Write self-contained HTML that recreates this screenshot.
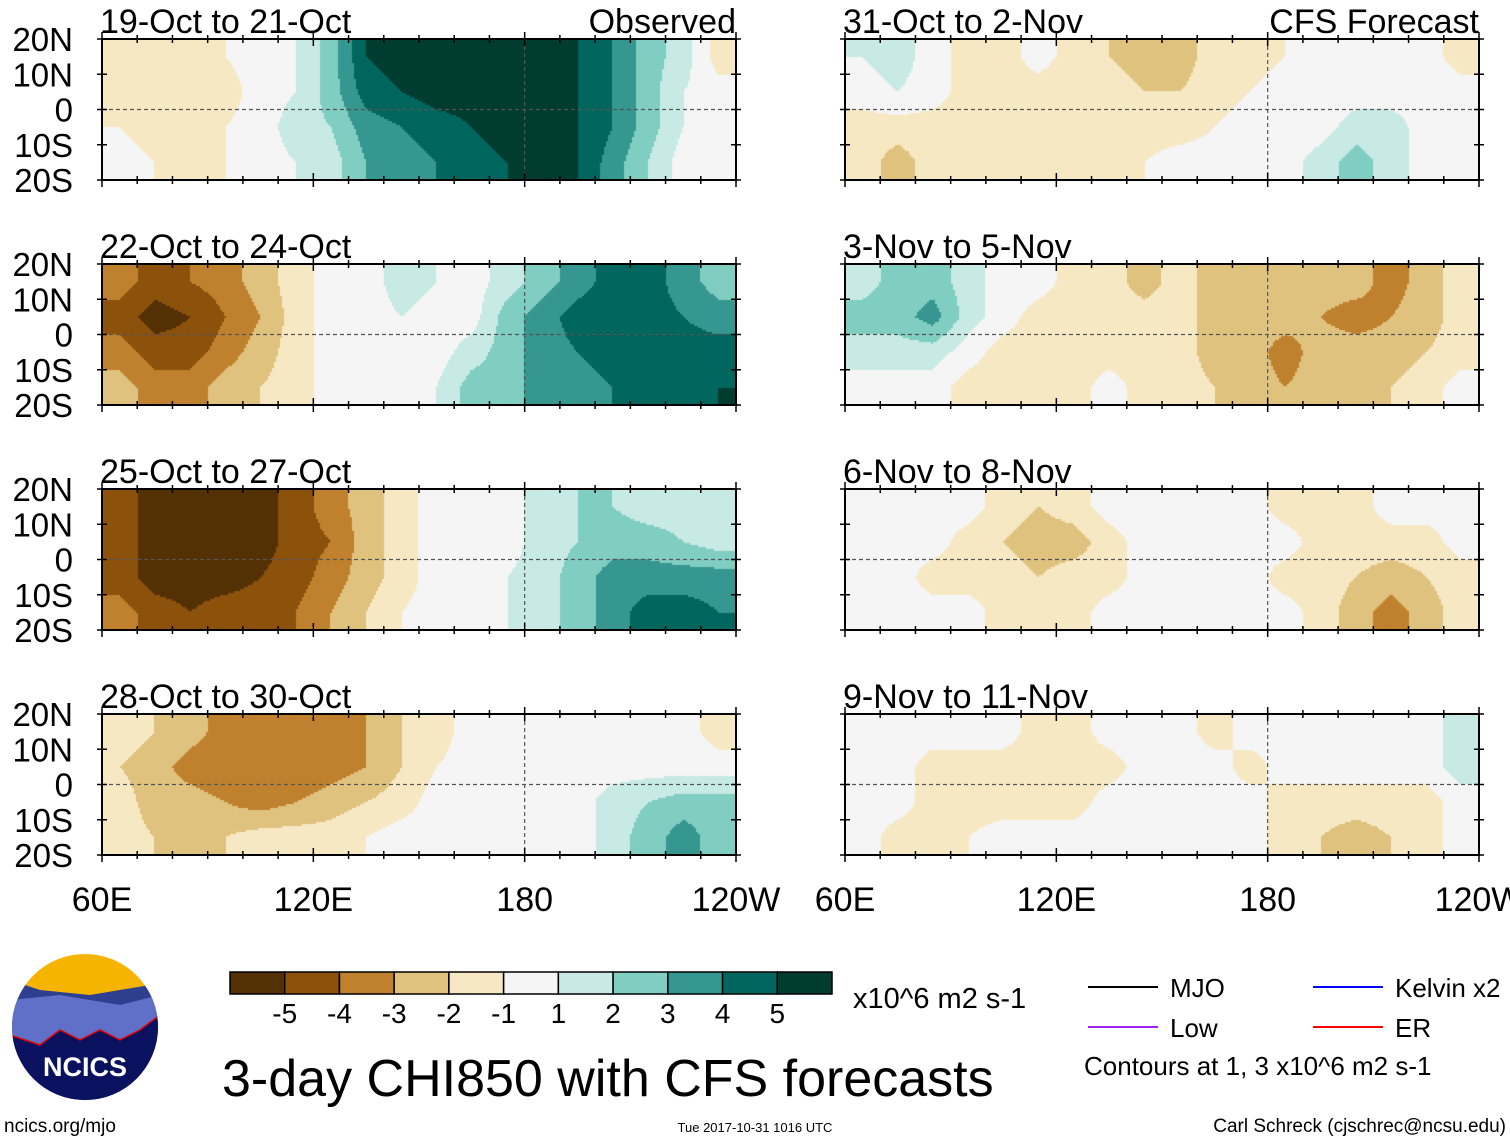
<!DOCTYPE html>
<html><head><meta charset="utf-8"><style>
body{margin:0;background:#fff;width:1510px;height:1142px;position:relative;overflow:hidden;font-family:"Liberation Sans",Arial,sans-serif;color:#000}
canvas{position:absolute}
</style></head><body>
<svg id="ov" width="1510" height="1142" style="position:absolute;left:0;top:0"></svg>
<script>
const titlesL=["19-Oct to 21-Oct","22-Oct to 24-Oct","25-Oct to 27-Oct","28-Oct to 30-Oct"];
const titlesR=["31-Oct to 2-Nov","3-Nov to 5-Nov","6-Nov to 8-Nov","9-Nov to 11-Nov"];
const latLabels=["20N","10N","0","10S","20S"];
const lonLabels=["60E","120E","180","120W"];
const cbLabels=["-5","-4","-3","-2","-1","1","2","3","4","5"];
const palette=["#543005","#8c510a","#bf812d","#dfc27d","#f6e8c3","#f5f5f5","#c7eae5","#80cdc1","#35978f","#01665e","#003c30"];
// grids: rows 15N,5N,5S,15S ; columns lon 65..235 step 10 ; values = colour level (-5..5)
const p1=[[-1.5,-1,-1.5,-0.5,0,0.5,2,4.5,5,5,5,5,5,4.5,3.5,2,1,-1],[-1,-1.5,-1.5,-1,0,0.5,2,4,4.5,5,5,5,5,4.5,3.5,2,0.5,0],[-0.5,-1,-1.5,-0.5,0,1,1.5,3,3.5,4,4.5,5,5,4.5,3.5,2,0.5,0],[0,-0.5,-1,-0.5,0,0.5,1,2.5,3,3.5,4,4.5,5,4.5,3,1.5,0,0]];
const p2=[[-3,-4,-3.5,-3,-2,-1,0,0,1,0.5,0,1,2,3,4,4,3,2],[-4,-5,-4.5,-3.5,-2.5,-1,0,0,0.5,0,0,2,3,4,4,4,3.5,3],[-3,-4,-4,-3,-2,-1,0,0,0,0,1,2,3,3.5,4,4,4,4],[-2,-3,-3,-2,-1.5,-1,0,0,0,0.5,2,2,3,3,3.5,4,4,4.5]];
const p3=[[-4,-5,-5,-5,-5,-4,-3,-2,-1,0,0,0,1,1.5,1.5,1,1,1],[-4,-5,-5,-5,-5,-4,-3.5,-2,-1,0,0,0,1,1.5,2,2,1.5,1],[-4,-5,-5,-5,-4.5,-4,-3,-2,-1,0,0,0.5,1,2,3,3,3,3],[-3,-4,-4.5,-4,-4,-3.5,-2.5,-1.5,-0.5,0,0,0.5,1,2,3,4,4,3.5]];
const p4=[[-1,-1.5,-2,-3,-3.5,-3.5,-3,-2.5,-1.5,-1,0,0,0,0,0,0,0,-1],[-1.5,-2,-3,-3.5,-3.5,-3.5,-3,-2.5,-1.5,-0.5,0,0,0,0,0,0,0,0],[-1,-2,-2,-2.5,-3,-2.5,-2,-1.5,-1,0,0,0,0,0,1,1.5,2,2],[-1,-1.5,-2,-1.5,-1,-1,-1,-0.5,0,0,0,0,0,0,1,2,3,2]];
const p5=[[0.5,1,0,-1,-1,0,-1,-1.5,-2,-2,-1,-1,-0.5,0,0,0,0,-1],[0,0.5,0,-1,-1,-1,-1.5,-1,-1.5,-1.5,-1,-0.5,0,0,0,0,0,0],[-1,-1,-1,-1,-1,-1.5,-1.5,-1,-1,-1,-0.5,0,0,0,1,1,0,0],[-1,-2,-1,-1,-1,-1,-1,-1,-0.5,0,0,0,0,1,2,1,0,0]];
const p6=[[1,2,2,1,0,0,-1,-1,-2,-1,-2,-2,-2,-2,-2,-3,-2,-1],[2,2,3,1,0,-1,-1,-1,-1,-1,-2,-2,-2,-2.5,-3,-2.5,-2,-1],[1,1,1,0,-1,-1,-1,-1,-1,-1,-2,-2,-3,-2,-2,-2,-1.5,-1],[0,0,0,-1,-1,-1,-1,0,-1,-1,-1.5,-2,-2.5,-2,-2,-1.5,-1,0]];
const p7=[[0,0,0,0,-1,-1.5,-1,0,0,0,0,0,-1,-1,-1,0,0,0],[0,0,0,-1,-1.5,-2,-2,-1,0,0,0,0,0,-1,-1,-1,-1,0],[0,0,-1,-1,-1,-1.5,-1,-1,0,0,0,0,-1,-1,-1.5,-2,-1.5,-1],[0,0,0,0,-1,-1,-1,0,0,0,0,0,0,-1,-2,-3,-2,-1]];
const p8=[[0,0,0,0,0,-1,-1,0,0,0,-1,0,0,0,0,0,0,1],[0,0,-1,-1,-1,-1,-1,-1,0,0,0,-1,0,0,0,0,0,1],[0,0,-1,-1,-1,-1,-1,0,0,0,0,0,-1,-1,-1,-1,-1,0],[0,-1,-1,-0.5,0,0,0,0,0,0,0,0,-1,-1.5,-2,-1.5,-1,0]];
const gridsL=[p1,p2,p3,p4], gridsR=[p5,p6,p7,p8];

const NS="http://www.w3.org/2000/svg", ov=document.getElementById('ov');
const W=634,H=141,rowsY=[39,264,489,714],colX=[102,845];
const xS=(lon,x0)=>x0+(lon-60)/180*W;
const yS=(lat,y0)=>y0+(20-lat)/40*H;
function cls(v){let r=Math.round(v+1e-6);r=Math.max(-5,Math.min(5,r));return r+5;}
function sample(g,lon,lat){
  let c=(lon-65)/10, r=(15-lat)/10;
  c=Math.max(0,Math.min(17,c)); r=Math.max(0,Math.min(3,r));
  const c0=Math.min(16,Math.floor(c)), r0=Math.min(2,Math.floor(r)), fc=c-c0, fr=r-r0;
  return g[r0][c0]*(1-fc)*(1-fr)+g[r0][c0+1]*fc*(1-fr)+g[r0+1][c0]*(1-fc)*fr+g[r0+1][c0+1]*fc*fr;
}
function el(tag,attrs,name,parent){const e=document.createElementNS(NS,tag);for(const k in attrs)e.setAttribute(k,attrs[k]);
 
 
 (parent||ov).appendChild(e);return e;}
function txt(x,y,s,size,anchor,name){const t=el('text',{x:x,y:y,'font-size':size,'text-anchor':anchor||'start','font-family':'Liberation Sans, Arial, sans-serif'},name);t.textContent=s;return t;}

function panel(g,x0,y0,title,extra,side){
  const cv=document.createElement('canvas');cv.width=W;cv.height=H;cv.style.left=x0+'px';cv.style.top=y0+'px';
  
  
  document.body.insertBefore(cv,ov);
  const ctx=cv.getContext('2d');
  for(let py=0;py<H;py+=2)for(let px=0;px<W;px+=2){
    const lon=60+(px+1)/W*180, lat=20-(py+1)/H*40;
    ctx.fillStyle=palette[cls(sample(g,lon,lat))];ctx.fillRect(px,py,2,2);
  }
  el('rect',{x:x0,y:y0,width:W,height:H,fill:'none',stroke:'#000','stroke-width':2},'panel-frame');
  el('line',{x1:x0,x2:x0+W,y1:yS(0,y0),y2:yS(0,y0),stroke:'#555','stroke-dasharray':'4,3','stroke-width':1.2},'equator-line');
  el('line',{x1:xS(180,x0),x2:xS(180,x0),y1:y0,y2:y0+H,stroke:'#555','stroke-dasharray':'4,3','stroke-width':1.2},'dateline');
  for(let lon=60;lon<=240;lon+=10){const x=xS(lon,x0),l=lon%60==0?7:4;
    el('line',{x1:x,x2:x,y1:y0-l,y2:y0+l,stroke:'#000','stroke-width':1.5},'tick');
    el('line',{x1:x,x2:x,y1:y0+H-l,y2:y0+H+l,stroke:'#000','stroke-width':1.5},'tick');}
  for(let lat=-20;lat<=20;lat+=10){const y=yS(lat,y0);
    el('line',{x1:x0-5,x2:x0+5,y1:y,y2:y,stroke:'#000','stroke-width':1.5},'tick');
    el('line',{x1:x0+W-5,x2:x0+W+5,y1:y,y2:y,stroke:'#000','stroke-width':1.5},'tick');}
  txt(x0-2,y0-6,title,34,'start','panel-title');
  if(extra)txt(x0+W,y0-6,extra,34,'end','panel-label');
}
for(let i=0;i<4;i++){
  panel(gridsL[i],colX[0],rowsY[i],titlesL[i],i==0?'Observed':null,'observed');
  panel(gridsR[i],colX[1],rowsY[i],titlesR[i],i==0?'CFS Forecast':null,'forecast');
  latLabels.forEach((s,j)=>txt(73,rowsY[i]+j*H/4+12,s,33,'end','lat-label'));
}
[0,1].forEach(c=>lonLabels.forEach((s,j)=>txt(colX[c]+j*W/3,911,s,34,'middle','lon-label')));
// colorbar
const cbX=230,cbW=602,cbY=972,cbH=22,bw=cbW/11;
palette.forEach((p,i)=>el('rect',{x:cbX+i*bw,y:cbY,width:bw,height:cbH,fill:p,stroke:'#000','stroke-width':1.5},'colorbar-box'));
cbLabels.forEach((s,i)=>txt(cbX+(i+1)*bw,1023,s,28,'middle','colorbar-label'));
txt(853,1008,'x10^6 m2 s-1',29,'start','colorbar-units');
txt(222,1096,'3-day CHI850 with CFS forecasts',52,'start','main-title');
// legend
[[1088,987,'#000','MJO'],[1313,987,'#0000ff','Kelvin x2'],[1088,1027,'#a020f0','Low'],[1313,1027,'#ff0000','ER']].forEach(l=>{
  el('line',{x1:l[0],x2:l[0]+70,y1:l[1],y2:l[1],stroke:l[2],'stroke-width':2},'legend-line');
  txt(l[0]+82,l[1]+10,l[3],26,'start','legend-entry');
});
txt(1084,1075,'Contours at 1, 3 x10^6 m2 s-1',26,'start','contour-note');
txt(4,1132,'ncics.org/mjo',19,'start','source-url');
txt(755,1132,'Tue 2017-10-31 1016 UTC',13,'middle','timestamp');
txt(1506,1132,'Carl Schreck (cjschrec@ncsu.edu)',19,'end','author');
// logo
const lg=el('g',{},'ncics-logo');
el('defs',{},'logo-defs',lg).innerHTML='<clipPath id="cl"><circle cx="85" cy="1027" r="73"/></clipPath>';
const gg=el('g',{'clip-path':'url(#cl)'},'logo-body',lg);
el('rect',{x:10,y:950,width:150,height:160,fill:'#f5b400'},'logo-sun',gg);
el('path',{d:'M10 980 L40 990 L90 995 L150 985 L160 990 L160 1110 L10 1110Z',fill:'#2e3f8f'},'logo-mountain',gg);
el('path',{d:'M10 1000 L60 995 L120 1005 L160 995 L160 1110 L10 1110Z',fill:'#6070c8'},'logo-mountain',gg);
el('path',{d:'M10 1035 L40 1045 L60 1030 L80 1040 L100 1030 L120 1040 L140 1030 L160 1015 L160 1110 L10 1110Z',fill:'#0a1260',stroke:'#d00','stroke-width':1.5},'logo-base',gg);
const lt=txt(85,1076,'NCICS',27,'middle','logo-text');lt.setAttribute('fill','#fff');lt.setAttribute('font-weight','bold');
</script>
</body></html>
